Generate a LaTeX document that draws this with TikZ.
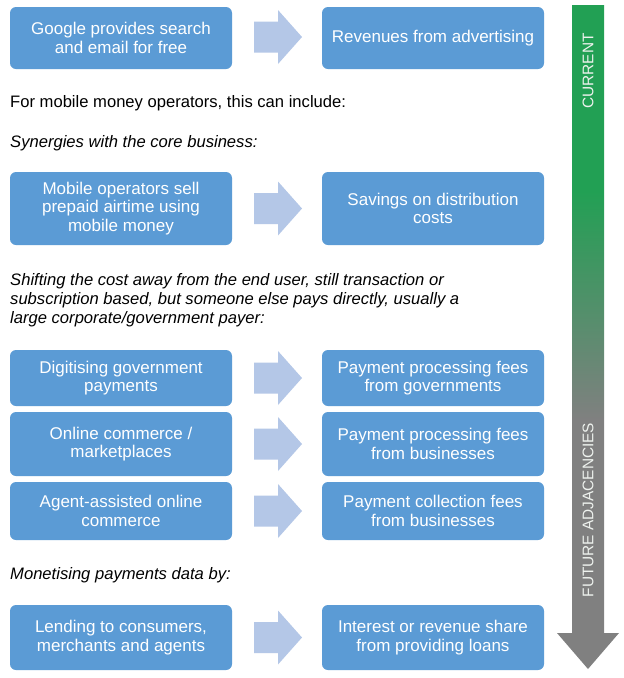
\documentclass[tikz,border=0pt]{standalone}
\usepackage{fontspec}
\setmainfont{Liberation Sans}
\definecolor{boxblue}{HTML}{5B9BD5}
\definecolor{arrowblue}{HTML}{B4C7E7}
\definecolor{bargreen}{RGB}{34,160,84}
\definecolor{bargray}{RGB}{128,128,128}
\definecolor{bartext}{RGB}{238,242,238}
\pgfdeclareverticalshading{barshade}{100bp}{color(0bp)=(bargray); color(43.75bp)=(bargray); color(61bp)=(bargreen); color(100bp)=(bargreen)}
\tikzset{
  box/.style={rounded corners=6pt, fill=boxblue, text=white, align=center,
    minimum width=222pt, inner sep=0pt, font=\fontsize{17}{18.5}\selectfont},
  bodytext/.style={anchor=base west, inner sep=0pt, font=\fontsize{16.6}{19}\selectfont},
  bartxt/.style={rotate=90, text=bartext, inner sep=0pt, font=\fontsize{15.4}{17}\selectfont},
  pics/bigarrow/.style={code={
    \fill[arrowblue] (-24,-15.5) -- (0,-15.5) -- (0,-27) -- (24,0) -- (0,27) -- (0,15.5) -- (-24,15.5) -- cycle;}}
}
\begin{document}
\begin{tikzpicture}[x=1pt,y=-1pt]
\useasboundingbox[fill=white] (0,0) rectangle (624,678);

% vertical bar
\shade[shading=barshade] (572,5) -- (604,5) -- (604,633) -- (619,633) -- (588,669) -- (557,633) -- (572,633) -- cycle;
\node[bartxt] (cur) at (588,71) {CURRENT};
\node[bartxt] (fut) at (588,510) {FUTURE ADJACENCIES};

% row 1
\node[box, minimum height=62pt] (l1) at (121,38) {Google provides search\\and email for free};
\node[box, minimum height=62pt] (r1) at (433,38) {Revenues from advertising};
\pic (a1) at (278,37) {bigarrow};

\node[bodytext] (t1) at (10,107) {For mobile money operators, this can include:};
\node[bodytext] (t2) at (10,147) {\itshape Synergies with the core business:};

% row 2
\node[box, minimum height=73pt] (l2) at (121,208.5) {Mobile operators sell\\prepaid airtime using\\mobile money};
\node[box, minimum height=73pt] (r2) at (433,208.5) {Savings on distribution\\costs};
\pic (a2) at (278,208.5) {bigarrow};

\node[bodytext] (s1) at (10,285) {\itshape Shifting the cost away from the end user, still transaction or};
\node[bodytext] (s2) at (10,304) {\itshape subscription based, but someone else pays directly, usually a};
\node[bodytext] (s3) at (10,323) {\itshape large corporate/government payer:};

% row 3
\node[box, minimum height=56pt] (l3) at (121,378) {Digitising government\\payments};
\node[box, minimum height=56pt] (r3) at (433,378) {Payment processing fees\\from governments};
\pic (a3) at (278,378) {bigarrow};

% row 4
\node[box, minimum height=64pt] (l4) at (121,444) {Online commerce /\\marketplaces};
\node[box, minimum height=64pt] (r4) at (433,444) {Payment processing fees\\from businesses};
\pic (a4) at (278,444) {bigarrow};

% row 5
\node[box, minimum height=58pt] (l5) at (121,511) {Agent-assisted online\\commerce};
\node[box, minimum height=58pt] (r5) at (433,511) {Payment collection fees\\from businesses};
\pic (a5) at (278,511) {bigarrow};

\node[bodytext] (m1) at (10,579) {\itshape Monetising payments data by:};

% row 6
\node[box, minimum height=65pt] (l6) at (121,637.5) {Lending to consumers,\\merchants and agents};
\node[box, minimum height=65pt] (r6) at (433,637.5) {Interest or revenue share\\from providing loans};
\pic (a6) at (278,637.5) {bigarrow};
\end{tikzpicture}
\end{document}
